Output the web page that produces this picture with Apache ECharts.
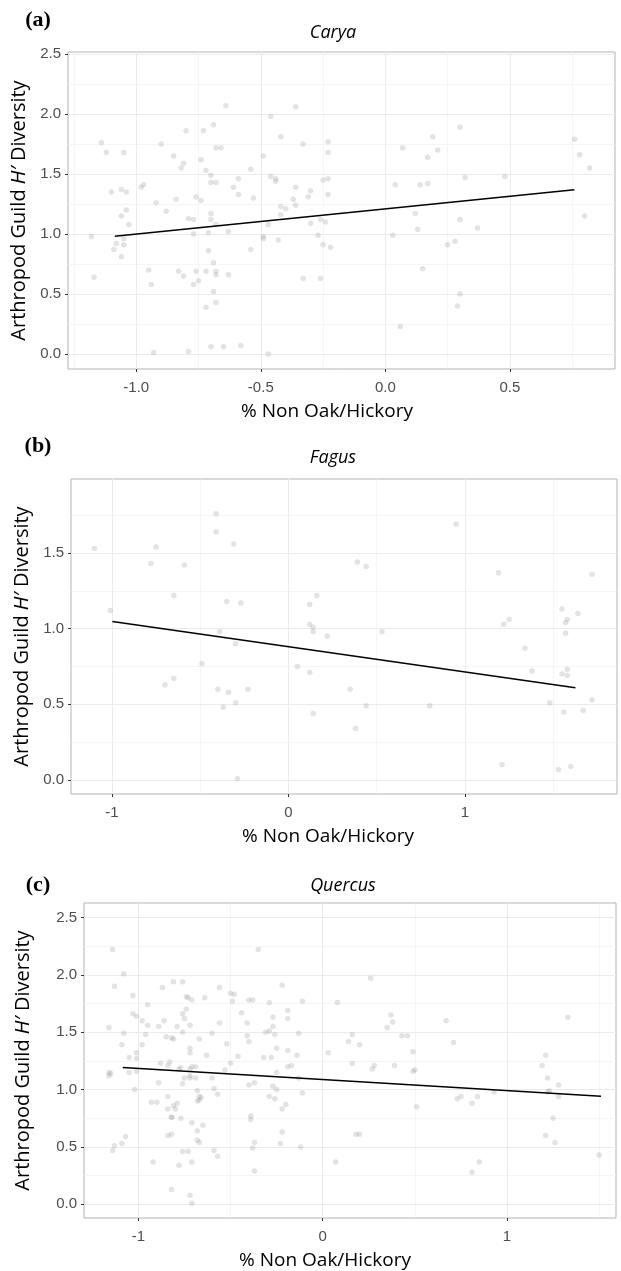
<!DOCTYPE html>
<html>
<head>
<meta charset="utf-8">
<script src="https://cdn.jsdelivr.net/npm/echarts@6/dist/echarts.min.js"></script>
<style>
body { margin: 0; background: #fff; }
#chart { width: 621px; height: 1271px; }
</style>
</head>
<body>
<div id="chart"></div>
<script>
// (a) Carya
var caryaPoints = [
	[-1.18,0.98],[-1.17,0.64],[-1.14,1.76],[-1.12,1.68],[-1.05,1.68],[-1.10,1.35],[-1.06,1.37],[-1.04,1.35],
	[-1.04,1.20],[-1.06,1.15],[-1.03,1.08],[-1.08,0.92],[-1.05,0.91],[-1.05,0.96],[-1.09,0.87],[-1.06,0.81],
	[-0.98,1.39],[-0.97,1.41],[-0.92,1.26],[-0.90,1.75],[-0.88,1.19],[-0.95,0.70],[-0.94,0.58],[-0.93,0.01],
	[-0.85,1.65],[-0.84,1.29],[-0.82,1.55],[-0.81,1.59],[-0.80,1.86],[-0.79,1.13],[-0.77,1.12],[-0.77,1.00],
	[-0.83,0.69],[-0.81,0.65],[-0.76,0.69],[-0.75,0.61],[-0.77,0.58],[-0.79,0.02],[-0.76,1.31],[-0.74,1.28],
	[-0.74,1.62],[-0.73,1.86],[-0.72,1.53],[-0.70,1.49],[-0.69,1.91],[-0.68,1.72],[-0.66,1.72],[-0.70,1.43],
	[-0.68,1.43],[-0.70,1.17],[-0.70,1.12],[-0.68,1.08],[-0.71,1.01],[-0.71,0.86],[-0.69,0.76],[-0.72,0.69],
	[-0.68,0.69],[-0.68,0.66],[-0.69,0.52],[-0.68,0.43],[-0.72,0.39],[-0.70,0.06],[-0.65,0.06],[-0.58,0.07],
	[-0.64,2.07],[-0.63,1.02],[-0.63,0.66],[-0.61,1.39],[-0.59,1.46],[-0.59,1.33],[-0.54,1.54],[-0.53,1.30],
	[-0.54,0.87],[-0.49,1.65],[-0.49,0.96],[-0.49,0.98],[-0.47,0.00],[-0.47,1.08],[-0.46,1.98],[-0.46,1.48],
	[-0.44,1.46],[-0.44,1.44],[-0.42,1.81],[-0.43,0.95],[-0.42,1.23],[-0.40,1.21],[-0.42,1.16],[-0.36,2.06],
	[-0.33,1.75],[-0.36,1.39],[-0.37,1.29],[-0.36,1.24],[-0.33,0.63],[-0.30,1.09],[-0.30,1.36],[-0.31,1.31],
	[-0.25,1.45],[-0.23,1.46],[-0.23,1.77],[-0.23,1.68],[-0.23,1.33],[-0.26,1.12],[-0.24,1.10],[-0.27,0.99],
	[-0.25,0.91],[-0.22,0.89],[-0.26,0.63],
	[0.04,1.41],[0.03,0.99],[0.06,0.23],[0.07,1.72],[0.12,1.17],[0.13,1.04],[0.14,1.41],[0.17,1.42],
	[0.15,0.71],[0.17,1.64],[0.19,1.81],[0.21,1.70],[0.25,0.91],[0.28,0.94],[0.30,1.89],[0.30,1.12],
	[0.32,1.47],[0.30,0.50],[0.29,0.40],[0.37,1.05],[0.48,1.48],[0.76,1.79],[0.78,1.66],[0.82,1.55],[0.80,1.15]
];
var caryaFit = [[-1.086,0.981],[0.759,1.369]];

// (b) Fagus
var fagusPoints = [
	[-1.10,1.53],[-1.01,1.12],[-0.78,1.43],[-0.75,1.54],[-0.59,1.42],[-0.65,1.22],[-0.70,0.63],[-0.65,0.67],
	[-0.41,1.76],[-0.41,1.64],[-0.31,1.56],[-0.35,1.18],[-0.27,1.17],[-0.39,0.98],[-0.30,0.90],[-0.49,0.77],
	[-0.40,0.60],[-0.34,0.58],[-0.37,0.48],[-0.30,0.51],[-0.23,0.60],[-0.29,0.01],[0.05,0.75],[0.12,1.16],
	[0.16,1.22],[0.12,1.03],[0.14,1.01],[0.14,0.98],[0.22,0.95],[0.12,0.71],[0.14,0.44],[0.39,1.44],
	[0.44,1.41],[0.35,0.60],[0.44,0.49],[0.38,0.34],[0.53,0.98],[0.80,0.49],[0.95,1.69],[1.19,1.37],
	[1.22,1.03],[1.25,1.06],[1.21,0.10],[1.34,0.87],[1.38,0.72],[1.48,0.51],[1.55,1.13],[1.64,1.10],
	[1.58,1.06],[1.57,1.04],[1.57,0.97],[1.55,0.70],[1.58,0.69],[1.58,0.73],[1.56,0.45],[1.67,0.46],
	[1.72,0.53],[1.72,1.36],[1.53,0.07],[1.60,0.09]
];
var fagusFit = [[-0.998,1.048],[1.626,0.610]];

// (c) Quercus
var quercusPoints = [
	[-1.14,2.22],[-1.08,2.01],[-1.13,1.90],[-1.16,1.54],[-1.08,1.49],[-1.09,1.39],[-1.16,1.15],[-1.15,1.14],
	[-1.16,1.12],[-1.05,1.15],[-1.05,1.28],[-1.03,1.82],[-1.03,1.66],[-1.01,1.64],[-1.01,1.32],[-1.01,1.27],
	[-1.01,1.16],[-1.02,1.00],[-0.98,1.60],[-0.98,1.39],[-0.96,1.48],[-0.95,1.74],[-0.95,1.56],[-1.07,0.59],
	[-1.09,0.53],[-1.13,0.51],[-1.14,0.47],[-0.92,0.37],[-0.93,0.89],[-0.90,0.89],[-0.89,1.55],[-0.88,1.23],
	[-0.89,1.06],[-0.87,1.89],[-0.86,1.60],[-0.85,1.46],[-0.84,0.94],[-0.84,0.83],[-0.83,1.24],[-0.84,1.21],
	[-0.82,1.45],[-0.81,1.44],[-0.81,1.94],[-0.79,1.55],[-0.78,1.18],[-0.77,1.19],[-0.76,1.94],[-0.76,1.66],
	[-0.76,1.50],[-0.75,1.62],[-0.74,1.70],[-0.74,1.81],[-0.73,1.80],[-0.71,1.78],[-0.72,1.56],[-0.72,1.36],
	[-0.72,1.32],[-0.72,1.18],[-0.72,1.12],[-0.72,1.10],[-0.71,1.20],[-0.69,1.20],[-0.69,1.10],[-0.75,1.10],
	[-0.76,1.05],[-0.81,0.86],[-0.79,0.88],[-0.80,0.83],[-0.82,0.76],[-0.82,0.76],[-0.84,0.60],[-0.82,0.61],
	[-0.77,0.75],[-0.71,0.71],[-0.68,0.64],[-0.68,0.56],[-0.67,0.54],[-0.65,0.69],[-0.76,0.46],[-0.73,0.46],
	[-0.71,0.37],[-0.78,0.34],[-0.82,0.13],[-0.72,0.08],[-0.71,0.01],[-0.68,0.99],[-0.68,0.90],[-0.67,0.91],
	[-0.66,0.93],[-0.67,0.94],[-0.67,1.44],[-0.64,1.80],[-0.63,1.30],[-0.60,1.49],[-0.60,1.10],[-0.59,1.01],
	[-0.57,0.96],[-0.59,0.47],[-0.57,0.42],[-0.56,1.89],[-0.56,1.58],[-0.53,1.17],[-0.52,1.40],[-0.50,1.23],
	[-0.50,1.84],[-0.48,1.83],[-0.49,1.77],[-0.46,1.29],[-0.44,1.67],[-0.41,1.58],[-0.41,1.47],[-0.40,1.42],
	[-0.40,1.78],[-0.38,1.78],[-0.40,1.04],[-0.37,1.06],[-0.39,0.77],[-0.39,0.74],[-0.37,0.54],[-0.38,0.49],
	[-0.37,0.29],[-0.35,2.22],[-0.32,1.28],[-0.31,1.50],[-0.29,1.51],[-0.29,1.76],[-0.28,1.28],[-0.27,1.63],
	[-0.27,1.55],[-0.26,1.48],[-0.25,1.15],[-0.25,1.36],[-0.27,1.03],[-0.25,1.00],[-0.29,0.94],[-0.26,0.92],
	[-0.22,1.91],[-0.22,0.83],[-0.20,0.87],[-0.19,1.20],[-0.17,1.21],[-0.19,1.34],[-0.19,1.69],[-0.19,1.62],
	[-0.22,0.63],[-0.23,0.53],[-0.13,1.49],[-0.14,1.30],[-0.13,1.10],[-0.12,0.50],[-0.11,1.77],[-0.11,0.97],
	[0.03,1.32],[0.07,0.37],[0.08,1.76],[0.26,1.97],[0.14,1.42],[0.16,1.48],[0.20,1.39],[0.16,1.23],
	[0.27,1.18],[0.28,1.21],[0.18,0.61],[0.20,0.61],[0.35,1.54],[0.37,1.65],[0.38,1.59],[0.43,1.47],
	[0.46,1.47],[0.39,1.21],[0.49,1.33],[0.49,1.16],[0.50,1.17],[0.51,0.85],[0.67,1.60],[0.71,1.41],
	[0.73,0.92],[0.75,0.94],[0.81,0.88],[0.84,0.94],[0.93,0.98],[0.81,0.28],[0.85,0.37],[1.19,1.21],
	[1.21,1.30],[1.22,1.10],[1.23,0.99],[1.22,0.98],[1.28,1.04],[1.28,0.94],[1.25,0.75],[1.21,0.60],
	[1.26,0.54],[1.33,1.63],[1.50,0.43]
];
var quercusFit = [[-1.085,1.193],[1.510,0.941]];

// tick values
var caryaXTicks = [-1, -0.5, 0, 0.5];
var caryaXMinor = [-1.25, -0.75, -0.25, 0.25, 0.75];
var wideXTicks = [-1, 0, 1];
var wideXMinor = [-0.5, 0.5, 1.5];
var yTicksTall = [0, 0.5, 1, 1.5, 2, 2.5];
var yMinorTall = [0.25, 0.75, 1.25, 1.75, 2.25];
var yTicksShort = [0, 0.5, 1, 1.5];
var yMinorShort = [0.25, 0.75, 1.25, 1.75];

var panelTags = ['(a)', '(b)', '(c)'];
var panelTitles = ['Carya', 'Fagus', 'Quercus'];
var xTitle = '% Non Oak/Hickory';
var yTitle = 'Arthropod Guild {i|H\u2032} Diversity';

// xNamePad: right padding that pulls the x title left of the panel centre, as in the figure
var panels = [ {
	points : caryaPoints, fit : caryaFit,
	grid : [68, 52, 547, 317],
	xMin : -1.274, xMax : 0.922, yMin : -0.125, yMax : 2.517,
	xTicks : caryaXTicks, xMinor : caryaXMinor, yTicks : yTicksTall, yMinor : yMinorTall,
	xDigits : 1, yNameGap : 35, xNamePad : 29, tagPos : [38, 20], titlePos : [333, 33]
}, {
	points : fagusPoints, fit : fagusFit,
	grid : [71, 479, 546, 315],
	xMin : -1.2325, xMax : 1.8616, yMin : -0.0925, yMax : 1.989,
	xTicks : wideXTicks, xMinor : wideXMinor, yTicks : yTicksShort, yMinor : yMinorShort,
	xDigits : 0, yNameGap : 38, xNamePad : 32, tagPos : [38, 446], titlePos : [333, 458]
}, {
	points : quercusPoints, fit : quercusFit,
	grid : [84, 903, 532, 316],
	xMin : -1.2952, xMax : 1.5914, yMin : -0.119, yMax : 2.626,
	xTicks : wideXTicks, xMinor : wideXMinor, yTicks : yTicksTall, yMinor : yMinorTall,
	xDigits : 0, yNameGap : 51, xNamePad : 50, tagPos : [38, 885], titlePos : [343, 886]
} ];

var tickFont = 'Liberation Sans';
var textFont = 'Open Sans';

function fixedFormatter(digits) {
	return function(v) {
		return Number(v).toFixed(digits);
	};
}

function addPanel(option, i, p) {
	option.grid.push({
		left : p.grid[0],
		top : p.grid[1],
		width : p.grid[2],
		height : p.grid[3],
		show : true,
		borderColor : '#b3b3b3',
		borderWidth : 1
	});

	// major x axis
	option.xAxis.push({
		gridIndex : i,
		type : 'value',
		position : 'bottom',
		min : p.xMin,
		max : p.xMax,
		name : xTitle,
		nameLocation : 'middle',
		nameGap : 33,
		nameTextStyle : {
			fontFamily : textFont,
			fontSize : 19,
			color : '#000',
			padding : [0, p.xNamePad, 0, 0]
		},
		axisLine : { show : false, onZero : false },
		axisTick : { show : true, length : 3, customValues : p.xTicks, lineStyle : { color : '#333' } },
		axisLabel : {
			customValues : p.xTicks,
			margin : 11,
			fontFamily : tickFont,
			fontSize : 15,
			color : '#4d4d4d',
			formatter : fixedFormatter(p.xDigits)
		},
		splitLine : { show : true, lineStyle : { color : '#ebebeb', width : 1 } }
	});
	// minor x grid lines
	option.xAxis.push({
		gridIndex : i,
		type : 'value',
		position : 'top',
		min : p.xMin,
		max : p.xMax,
		axisLine : { show : false, onZero : false },
		axisTick : { show : false, customValues : p.xMinor },
		axisLabel : { show : false },
		splitLine : { show : true, lineStyle : { color : '#f0f0f0', width : 0.7 } }
	});

	// major y axis
	option.yAxis.push({
		gridIndex : i,
		type : 'value',
		position : 'left',
		min : p.yMin,
		max : p.yMax,
		name : yTitle,
		nameLocation : 'middle',
		nameGap : p.yNameGap,
		nameTextStyle : {
			fontFamily : textFont,
			fontSize : 20,
			color : '#000',
			rich : {
				i : { fontFamily : textFont, fontSize : 20, fontStyle : 'italic', color : '#000' }
			}
		},
		axisLine : { show : false, onZero : false },
		axisTick : { show : true, length : 3, customValues : p.yTicks, lineStyle : { color : '#333' } },
		axisLabel : {
			customValues : p.yTicks,
			margin : 7,
			fontFamily : tickFont,
			fontSize : 15,
			color : '#4d4d4d',
			formatter : fixedFormatter(1)
		},
		splitLine : { show : true, lineStyle : { color : '#ebebeb', width : 1 } }
	});
	// minor y grid lines
	option.yAxis.push({
		gridIndex : i,
		type : 'value',
		position : 'right',
		min : p.yMin,
		max : p.yMax,
		axisLine : { show : false, onZero : false },
		axisTick : { show : false, customValues : p.yMinor },
		axisLabel : { show : false },
		splitLine : { show : true, lineStyle : { color : '#f0f0f0', width : 0.7 } }
	});

	option.series.push({
		type : 'scatter',
		xAxisIndex : i * 2,
		yAxisIndex : i * 2,
		data : p.points,
		symbolSize : 5.5,
		itemStyle : { color : 'rgba(150,150,150,0.33)' },
		silent : true
	});
	option.series.push({
		type : 'line',
		xAxisIndex : i * 2,
		yAxisIndex : i * 2,
		data : p.fit,
		showSymbol : false,
		lineStyle : { color : '#000', width : 1.5 },
		silent : true,
		z : 3
	});

	option.graphic.push({
		type : 'text',
		x : p.tagPos[0],
		y : p.tagPos[1],
		style : {
			text : panelTags[i],
			font : 'bold 22px "Liberation Serif"',
			fill : '#000',
			align : 'center',
			verticalAlign : 'middle'
		}
	});
	option.graphic.push({
		type : 'text',
		x : p.titlePos[0],
		y : p.titlePos[1],
		style : {
			text : panelTitles[i],
			font : 'italic 18px "' + textFont + '"',
			fill : '#000',
			align : 'center',
			verticalAlign : 'middle'
		}
	});
}

var myChart = echarts.init(document.getElementById('chart'), null, { renderer : 'canvas' });
var option = {
	backgroundColor : '#fff',
	animation : false,
	grid : [],
	xAxis : [],
	yAxis : [],
	series : [],
	graphic : []
};
for (var i = 0; i < panels.length; i++) {
	addPanel(option, i, panels[i]);
}
myChart.setOption(option);
</script>
</body>
</html>
